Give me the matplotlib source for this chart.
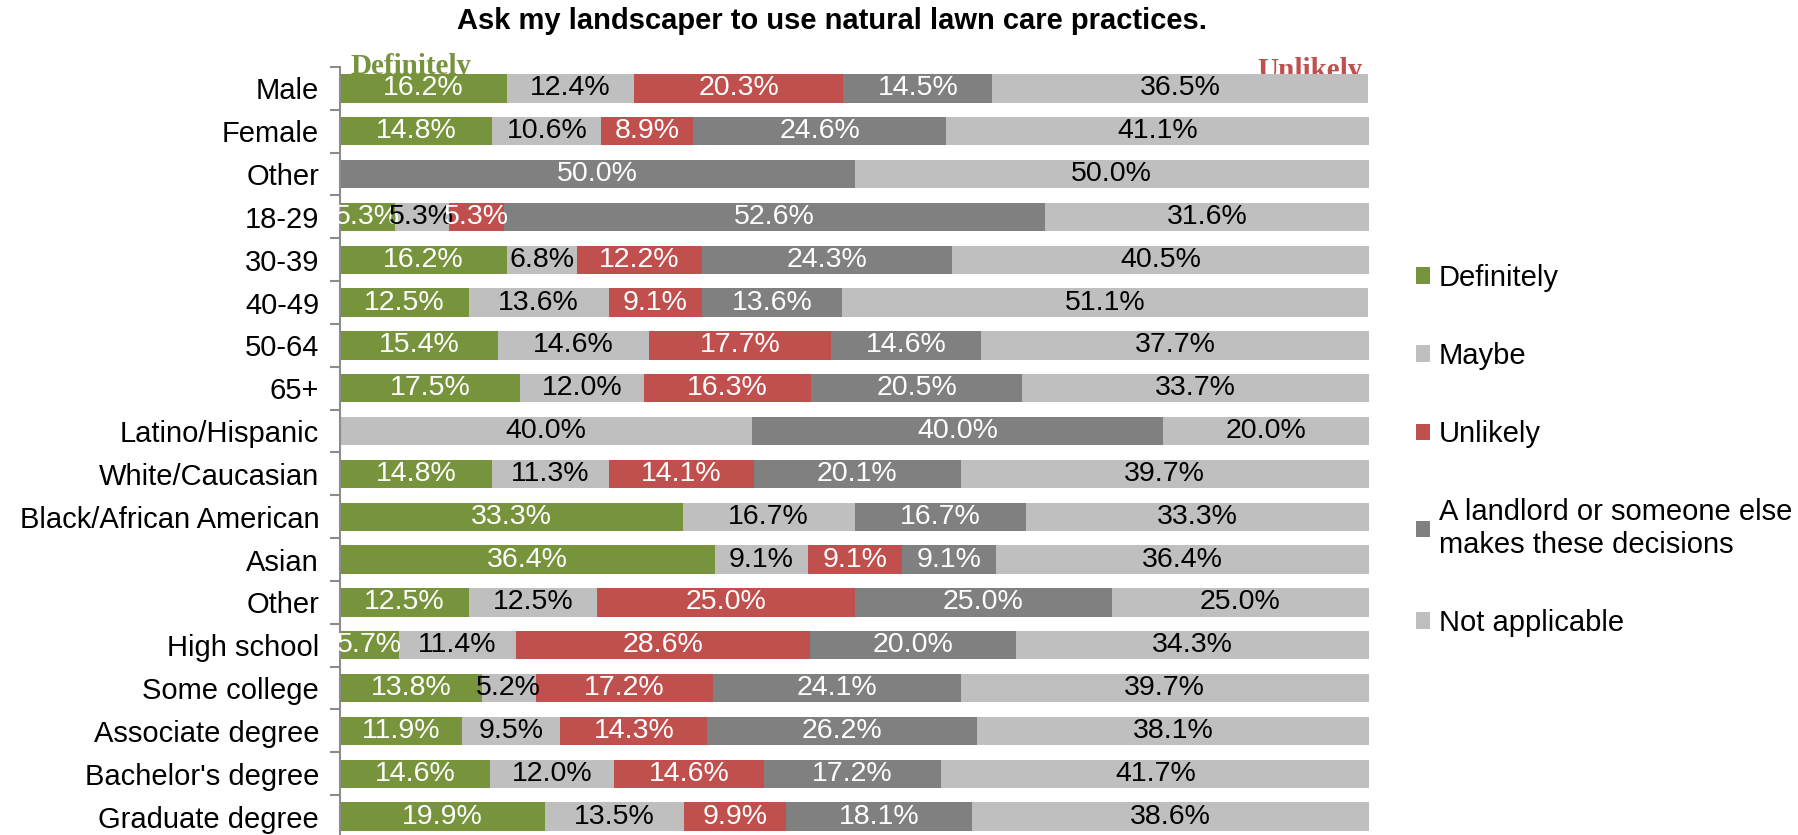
import numpy as np
import matplotlib.pyplot as plt
from matplotlib.patches import Patch

plt.rcParams['font.family'] = ['Liberation Sans', 'DejaVu Sans']

# Survey breakdown, one row per respondent group
groups = ["Male", "Female", "Other", "18-29", "30-39", "40-49", "50-64", "65+",
          "Latino/Hispanic", "White/Caucasian", "Black/African American", "Asian",
          "Other", "High school", "Some college", "Associate degree",
          "Bachelor's degree", "Graduate degree"]

definitely = [16.2, 14.8, 0.0, 5.3, 16.2, 12.5, 15.4, 17.5, 0.0, 14.8, 33.3, 36.4,
              12.5, 5.7, 13.8, 11.9, 14.6, 19.9]
maybe = [12.4, 10.6, 0.0, 5.3, 6.8, 13.6, 14.6, 12.0, 40.0, 11.3, 16.7, 9.1,
         12.5, 11.4, 5.2, 9.5, 12.0, 13.5]
unlikely = [20.3, 8.9, 0.0, 5.3, 12.2, 9.1, 17.7, 16.3, 0.0, 14.1, 0.0, 9.1,
            25.0, 28.6, 17.2, 14.3, 14.6, 9.9]
landlord = [14.5, 24.6, 50.0, 52.6, 24.3, 13.6, 14.6, 20.5, 40.0, 20.1, 16.7, 9.1,
            25.0, 20.0, 24.1, 26.2, 17.2, 18.1]
not_applicable = [36.5, 41.1, 50.0, 31.6, 40.5, 51.1, 37.7, 33.7, 20.0, 39.7, 33.3, 36.4,
                  25.0, 34.3, 39.7, 38.1, 41.7, 38.6]

series = [
    ("Definitely", definitely, "#77933C", "white"),
    ("Maybe", maybe, "#BFBFBF", "black"),
    ("Unlikely", unlikely, "#C0504D", "white"),
    ("A landlord or someone else\nmakes these decisions", landlord, "#808080", "white"),
    ("Not applicable", not_applicable, "#BFBFBF", "black"),
]

fig = plt.figure(figsize=(17.99, 8.35), dpi=100)
ax = fig.add_axes([0.189, -0.0036, 0.572, 0.9234])

y = np.arange(len(groups))
left = np.zeros(len(groups))
handles = []
for name, vals, color, tcolor in series:
    vals = np.array(vals)
    ax.barh(y, vals, left=left, height=0.66, color=color, zorder=2)
    for yi, (l, v) in enumerate(zip(left, vals)):
        if v > 0:
            ax.text(l + v / 2, yi, f"{v:.1f}%", ha="center", va="center",
                    fontsize=20.5, color=tcolor, zorder=3)
    left += vals
    handles.append(Patch(facecolor=color, label=name))

ax.set_xlim(0, 100)
ax.set_ylim(len(groups) - 0.5, -0.5)
ax.set_yticks(y)
ax.set_yticklabels(groups, fontsize=21)
ax.set_yticks(np.arange(len(groups) + 1) - 0.5, minor=True)
ax.tick_params(axis="y", which="major", length=0, pad=15)
ax.tick_params(axis="y", which="minor", length=7, color="#8C8C8C", width=1.5)
ax.set_xticks([])
for side in ["top", "right", "bottom"]:
    ax.spines[side].set_visible(False)
ax.spines["left"].set_color("#8C8C8C")
ax.spines["left"].set_linewidth(1.5)

# serif captions sitting partly behind the first bar
ax.text(1.0, -0.33, "Definitely", family="Liberation Serif", fontweight="bold",
        fontsize=21, color="#77933C", ha="left", va="baseline", zorder=1, clip_on=False)
ax.text(89.1, -0.24, "Unlikely", family="Liberation Serif", fontweight="bold",
        fontsize=21, color="#C0504D", ha="left", va="baseline", zorder=1, clip_on=False)

fig.text(0.4625, 0.975, "Ask my landscaper to use natural lawn care practices.",
         ha="center", va="center", fontsize=21, fontweight="bold")

fig.legend(handles=handles, loc="upper left", bbox_to_anchor=(0.7805, 0.698),
           frameon=False, fontsize=21, handlelength=0.5, handleheight=0.5,
           handletextpad=0.28, labelspacing=1.72, borderaxespad=0)

fig.savefig("out.png", dpi=100)
